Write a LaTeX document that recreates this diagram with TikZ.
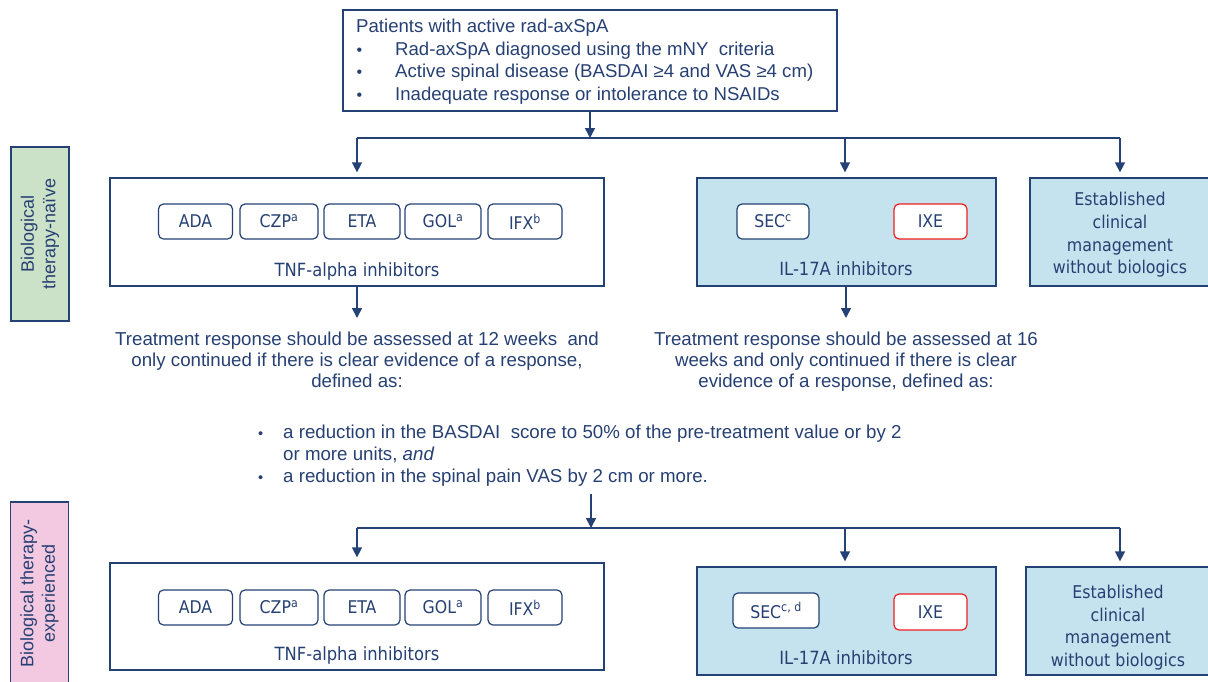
\documentclass[tikz,border=0pt]{standalone}
\usepackage{fontspec}
\setmainfont{Liberation Sans}
\newfontfamily\boxfont{DejaVu Sans Condensed}
\usetikzlibrary{arrows.meta}
\definecolor{navy}{RGB}{38,64,115}
\definecolor{lineblue}{RGB}{36,66,118}
\definecolor{lblue}{RGB}{197,227,238}
\definecolor{lgreen}{RGB}{204,226,200}
\definecolor{lpink}{RGB}{243,200,225}
\definecolor{pillred}{RGB}{240,30,30}
\tikzset{
  box/.style={draw=lineblue, line width=1.3pt, inner sep=0pt},
  bluebox/.style={box, fill=lblue},
  sidebox/.style={box, minimum width=58pt},
  pill/.style={draw=lineblue, fill=white, rounded corners=5pt, line width=1.2pt, inner sep=0pt,
    minimum height=35pt, text=navy, font=\boxfont\fontsize{17.5}{20}\selectfont},
  redpill/.style={pill, draw=pillred},
  boxlabel/.style={text=navy, inner sep=0pt, font=\boxfont\fontsize{18.2}{20}\selectfont},
  esttext/.style={text=navy, inner sep=0pt, align=center, font=\boxfont\fontsize{17.6}{22.7}\selectfont},
  bodytext/.style={text=navy, inner sep=0pt, font=\fontsize{18.7}{21}\selectfont},
  sidetext/.style={text=navy, inner sep=0pt, align=center, rotate=90, font=\fontsize{18}{21.5}\selectfont},
  arr/.style={draw=lineblue, line width=1.5pt, -{Triangle[width=10pt,length=10pt]}},
  conn/.style={draw=lineblue, line width=1.5pt},
}
\begin{document}
\begin{tikzpicture}[x=1pt,y=-1pt]
\useasboundingbox (0,0) rectangle (1208,681);
\clip (0,0) rectangle (1208,681);

% top box
\node[box, minimum width=494pt, minimum height=101pt] (top) at (590,60.5) {};
\node[bodytext, anchor=north west, align=left, font=\fontsize{18.6}{22.6}\selectfont] (toptext) at (356,19)
 {Patients with active rad-axSpA\\
  \makebox[39pt][l]{\hspace*{0.5pt}\fontsize{16}{16}\selectfont •}Rad-axSpA diagnosed using the mNY\ \ criteria\\
  \makebox[39pt][l]{\hspace*{0.5pt}\fontsize{16}{16}\selectfont •}Active spinal disease (BASDAI ≥4 and VAS ≥4 cm)\\
  \makebox[39pt][l]{\hspace*{0.5pt}\fontsize{16}{16}\selectfont •}Inadequate response or intolerance to NSAIDs};

% row 1
\node[sidebox, fill=lgreen, minimum height=174pt] (naive) at (40,234) {};
\node[sidetext] (naivetext) at (naive.center) {Biological\\therapy-naïve};

\node[box, minimum width=494pt, minimum height=108pt] (tnf1) at (357,232) {};
\node[pill, minimum width=74pt] (ada1) at (195.5,221.5) {ADA};
\node[pill, minimum width=78pt] (czp1) at (279,221.5) {CZP\textsuperscript{a}};
\node[pill, minimum width=76pt] (eta1) at (362,221.5) {ETA};
\node[pill, minimum width=76pt] (gol1) at (443,221.5) {GOL\textsuperscript{a}};
\node[pill, minimum width=74pt] (ifx1) at (525,221.5) {IFX\textsuperscript{b}};
\node[boxlabel] (tnflab1) at (357,271) {TNF-alpha inhibitors};

\node[bluebox, minimum width=299pt, minimum height=108pt] (il1) at (846.5,232) {};
\node[pill, minimum width=72pt] (sec1) at (773,221.5) {SEC\textsuperscript{c}};
\node[redpill, minimum width=73pt] (ixe1) at (930.5,221.5) {IXE};
\node[boxlabel] (illab1) at (846,268.5) {IL-17A inhibitors};

\node[bluebox, minimum width=180pt, minimum height=108pt] (est1) at (1120,232) {};
\node[esttext] (esttext1) at (1120,235) {Established\\clinical\\management\\without biologics};

\coordinate (j1) at (590,138);
\coordinate (jil1) at (845,138);
\draw[arr] (top.south) -- (j1);
\draw[conn] (tnf1.north |- j1) -- (est1.north |- j1);
\draw[arr, shorten >=5pt] (tnf1.north |- j1) -- (tnf1.north);
\draw[arr, shorten >=5pt] (jil1) -- (jil1 |- il1.north);
\draw[arr, shorten >=5pt] (est1.north |- j1) -- (est1.north);

% responses
\node[bodytext, anchor=north, align=center] (resp1) at (357,332)
 {Treatment response should be assessed at 12 weeks\ \ and\\only continued if there is clear evidence of a response,\\defined as:};
\node[bodytext, anchor=north, align=center] (resp2) at (846,332)
 {Treatment response should be assessed at 16\\weeks and only continued if there is clear\\evidence of a response, defined as:};
\draw[arr, shorten >=14pt] (tnf1.south) -- (resp1.north);
\draw[arr, shorten >=14pt] (il1.south -| resp2.north) -- (resp2.north);

\node[bodytext, anchor=north west, align=left, font=\fontsize{18.7}{22}\selectfont] (crit) at (258,425)
 {\makebox[25pt][l]{\fontsize{14.5}{14.5}\selectfont •}a reduction in the BASDAI\ \ score to 50\% of the pre-treatment value or by 2\\
  \hspace*{25pt}or more units, \textit{and}\\
  \makebox[25pt][l]{\fontsize{14.5}{14.5}\selectfont •}a reduction in the spinal pain VAS by 2 cm or more.};

% row 2
\coordinate (critout) at (591,494);
\coordinate (j2) at (591,528);
\coordinate (jil2) at (845,528);
\draw[arr] (critout) -- (j2);

\node[sidebox, fill=lpink, minimum height=196pt] (exp) at (39.5,600) {};
\node[sidetext] (exptext) at (39.5,593) {Biological therapy-\\experienced};

\node[box, minimum width=494pt, minimum height=107pt] (tnf2) at (357,616.5) {};
\node[pill, minimum width=74pt] (ada2) at (195.5,607.5) {ADA};
\node[pill, minimum width=78pt] (czp2) at (279,607.5) {CZP\textsuperscript{a}};
\node[pill, minimum width=76pt] (eta2) at (362,607.5) {ETA};
\node[pill, minimum width=76pt] (gol2) at (443,607.5) {GOL\textsuperscript{a}};
\node[pill, minimum width=74pt] (ifx2) at (525,607.5) {IFX\textsuperscript{b}};
\node[boxlabel] (tnflab2) at (357,655) {TNF-alpha inhibitors};

\node[bluebox, minimum width=299pt, minimum height=108pt] (il2) at (846.5,621) {};
\node[pill, minimum width=86pt] (sec2) at (776,610.5) {SEC\textsuperscript{c, d}};
\node[redpill, minimum width=73pt, minimum height=36pt] (ixe2) at (930.5,612) {IXE};
\node[boxlabel] (illab2) at (846,657.5) {IL-17A inhibitors};

\node[bluebox, minimum width=188pt, minimum height=108pt] (est2) at (1120,621) {};
\node[esttext] (esttext2) at (1118,627.5) {Established\\clinical\\management\\without biologics};

\draw[conn] (tnf2.north |- j2) -- (est2.north |- j2);
\draw[arr, shorten >=5pt] (tnf2.north |- j2) -- (tnf2.north);
\draw[arr, shorten >=5pt] (jil2) -- (jil2 |- il2.north);
\draw[arr, shorten >=5pt] (est2.north |- j2) -- (est2.north);
\end{tikzpicture}
\end{document}
